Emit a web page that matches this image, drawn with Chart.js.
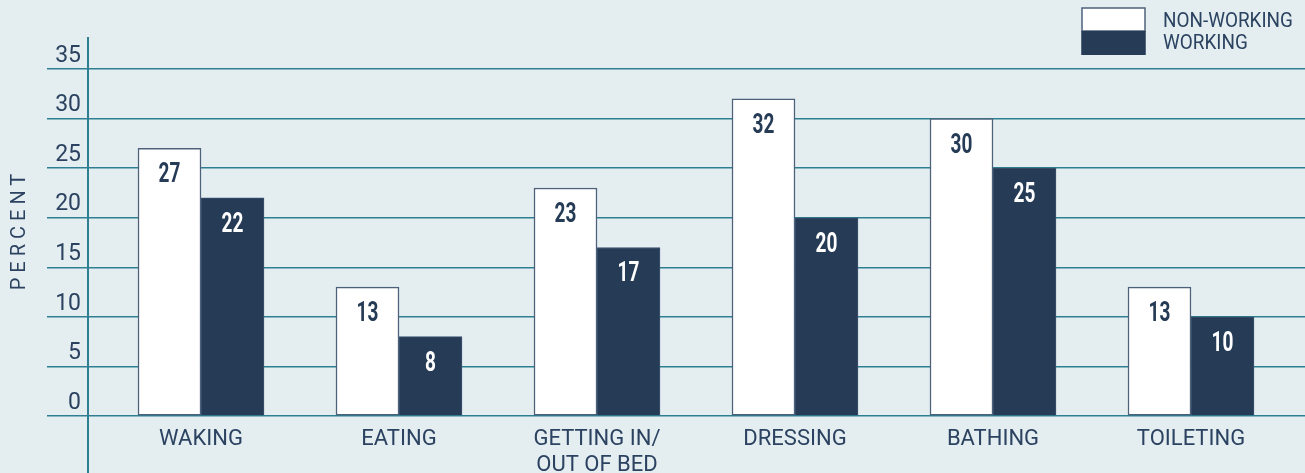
<!DOCTYPE html>
<html><head><meta charset="utf-8">
<script src="https://cdn.jsdelivr.net/npm/chart.js@4.4.1/dist/chart.umd.min.js"></script>
<style>
html,body{margin:0;padding:0;background:#e4eef1;}
#wrap{position:relative;width:1305px;height:473px;}
canvas{display:block;}
</style></head><body>
<div id="wrap"><canvas id="c" width="1305" height="473"></canvas></div>
<script>
// ---- data ----
const categories = ['WAKING', 'EATING', ['GETTING IN/', 'OUT OF BED'], 'DRESSING', 'BATHING', 'TOILETING'];
const seriesNames = ['NON-WORKING', 'WORKING'];
const nonWorking = [27, 13, 23, 32, 30, 13];
const working = [22, 8, 17, 20, 25, 10];
const yTicks = [0, 5, 10, 15, 20, 25, 30, 35];
const yTitle = 'PERCENT';

// ---- styles ----
const TEXT = '#2b4260';
const DARK = '#263b56';
const GRID = '#2d7f91';
const OUTLINE = '#4d627a';

const valueLabels = {
  id: 'valueLabels',
  afterDatasetsDraw(chart) {
    const ctx = chart.ctx;
    chart.data.datasets.forEach((ds, di) => {
      const meta = chart.getDatasetMeta(di);
      meta.data.forEach((bar, i) => {
        const v = ds.data[i].y;
        ctx.save();
        ctx.letterSpacing = '0px';
        ctx.font = '700 28px Roboto';
        ctx.fillStyle = di === 0 ? DARK : '#ffffff';
        ctx.textAlign = 'center';
        ctx.textBaseline = 'alphabetic';
        ctx.translate(bar.x, bar.y + 34);
        ctx.scale(0.68, 1);
        ctx.fillText(String(v), 0, 0);
        ctx.restore();
      });
    });
    ctx.letterSpacing = '1.5px';
  },
  afterDraw(chart) {
    const ctx = chart.ctx;
    ctx.letterSpacing = '0px';
    // y-axis title
    ctx.save();
    ctx.translate(20, 232);
    ctx.rotate(-Math.PI / 2);
    ctx.font = '400 20px Roboto';
    ctx.letterSpacing = '5px';
    ctx.fillStyle = TEXT;
    ctx.textAlign = 'center';
    ctx.textBaseline = 'middle';
    ctx.fillText(yTitle, 2.5, 0);
    ctx.restore();
    // legend
    const dsets = chart.data.datasets;
    ctx.save();
    ctx.fillStyle = dsets[0].backgroundColor;
    ctx.fillRect(1082, 8, 63, 23);
    ctx.strokeStyle = OUTLINE;
    ctx.lineWidth = 1.5;
    ctx.strokeRect(1082, 8, 63, 23);
    ctx.fillStyle = dsets[1].backgroundColor;
    ctx.fillRect(1081.25, 31, 64.5, 24);
    ctx.font = '400 21px Roboto';
    ctx.fillStyle = TEXT;
    ctx.textAlign = 'left';
    ctx.textBaseline = 'alphabetic';
    ctx.translate(1163, 0);
    ctx.scale(0.9, 1);
    ctx.fillText(dsets[0].label, 0, 27);
    ctx.fillText(dsets[1].label, 0, 49);
    ctx.restore();
  }
};

new Chart(document.getElementById('c'), {
  type: 'bar',
  data: {
    datasets: [
      {
        label: seriesNames[0],
        data: categories.map((c, i) => ({ x: i, y: nonWorking[i] })),
        backgroundColor: '#ffffff',
        borderColor: OUTLINE,
        borderWidth: 1.5,
        borderSkipped: false,
        barThickness: 63
      },
      {
        label: seriesNames[1],
        data: categories.map((c, i) => ({ x: i, y: working[i] })),
        backgroundColor: DARK,
        borderColor: '#3d5470',
        borderWidth: 1,
        borderSkipped: 'bottom',
        barThickness: 63
      }
    ]
  },
  options: {
    responsive: false,
    animation: false,
    layout: { padding: { top: 38, left: 0, right: 0, bottom: 0 } },
    plugins: { legend: { display: false }, tooltip: { enabled: false } },
    scales: {
      x: {
        type: 'linear',
        position: { y: 0 },
        offset: false,
        z: 1,
        min: -0.5707,
        max: 5.5758,
        afterBuildTicks(s) { s.ticks = categories.map((c, i) => ({ value: i })); },
        ticks: {
          callback: (v) => categories[v],
          font: { family: 'Roboto', size: 22, weight: 400, lineHeight: 1.2 },
          color: TEXT,
          padding: 10,
          maxRotation: 0,
          autoSkip: false
        },
        grid: { display: false, drawTicks: false, offset: false },
        border: { display: false }
      },
      y: {
        type: 'linear',
        min: -5.749,
        max: 38.127,
        afterBuildTicks(s) { s.ticks = yTicks.map(v => ({ value: v })); },
        afterFit(s) { s.width = 88; s.paddingTop = 0; s.paddingBottom = 0; },
        ticks: {
          font: { family: 'Roboto', size: 23, weight: 400 },
          color: TEXT,
          padding: -34,
          labelOffset: -13
        },
        grid: { color: GRID, lineWidth: 1.5, tickLength: 41, drawTicks: true },
        border: { color: GRID, width: 2 }
      }
    }
  },
  plugins: [valueLabels]
});
</script>
</body></html>
